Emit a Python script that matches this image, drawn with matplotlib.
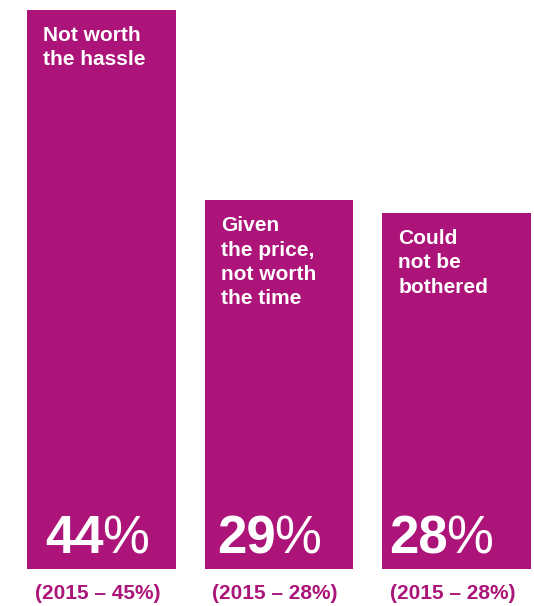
import numpy as np
import matplotlib
matplotlib.use('Agg')
import matplotlib.pyplot as plt

# data
reasons = ['Not worth\nthe hassle', 'Given\nthe price,\nnot worth\nthe time', 'Could\nnot be\nbothered']
share_2016 = [44, 29, 28]
share_2015 = [45, 28, 28]

purple = '#AC1479'
plt.rcParams['font.family'] = ['Liberation Sans', 'DejaVu Sans']

fig = plt.figure(figsize=(5.34, 6.06), dpi=100)
ax = fig.add_axes([0, 37.5/606, 1, 1 - 37.5/606])
x = np.arange(len(share_2016))
bars = ax.bar(x, share_2016, width=0.8366, color=purple, linewidth=0)
ax.set_xlim(-0.572, 2.437)
ax.set_ylim(0, 44.76)
ax.axis('off')

pct_pad = [18, 12, 7]   # px inset of big number per bar
fig.canvas.draw()
for i, b in enumerate(bars):
    left = b.get_x()
    top = b.get_height()
    # reason label, top left of bar
    ax.annotate(reasons[i], xy=(left, top), xytext=(16*0.72, -16*0.72),
                textcoords='offset points', ha='left', va='top',
                color='white', fontsize=15, fontweight='bold', linespacing=1.36)
    # big percentage, digits bold, % sign lighter
    num = ax.annotate(str(share_2016[i]), xy=(left, 0), xytext=(pct_pad[i]*0.72, 15.5*0.72),
                      textcoords='offset points', ha='left', va='baseline',
                      color='white', fontsize=38, fontweight='bold')
    ax.annotate('%', xy=(1, 0), xycoords=num, xytext=(-1, 0), textcoords='offset points',
                ha='left', va='bottom', color='white', fontsize=38, fontweight='normal')
    # 2015 comparison under the bar
    ax.annotate('(2015 \u2013 %d%%)' % share_2015[i], xy=(x[i], 0), xytext=(-3, -18),
                textcoords='offset points', ha='center', va='center',
                color=purple, fontsize=15, fontweight='bold', annotation_clip=False)

fig.savefig('out.png', dpi=100)
